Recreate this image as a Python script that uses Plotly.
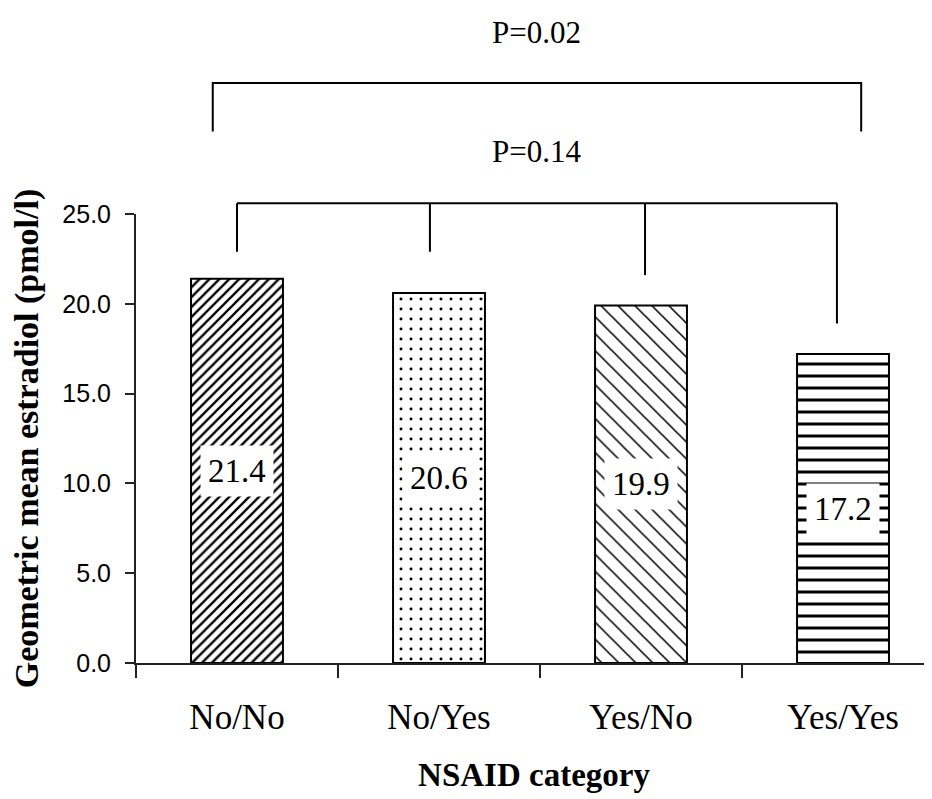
import plotly.graph_objects as go

# ---- data ----
categories = ["No/No", "No/Yes", "Yes/No", "Yes/Yes"]
values = [21.4, 20.6, 19.9, 17.2]
y_ticks = [0, 5, 10, 15, 20, 25]
y_tick_labels = ["0.0", "5.0", "10.0", "15.0", "20.0", "25.0"]

# comparison brackets (category index / value units)
outer_x = [-0.12, 3.09]
outer_top = 32.3
outer_ends = [29.6, 29.6]
outer_label = "P=0.02"
outer_label_y = 35.1

inner_x = [0, 0.955, 2.02, 2.97]
inner_top = 25.6
inner_ends = [22.9, 22.9, 21.6, 18.9]
inner_label = "P=0.14"
inner_label_y = 28.5

patterns = ["/", ".", "\\", "-"]
pattern_sizes = [7, 10, 12, 12]
pattern_solidity = [0.33, 0.07, 0.13, 0.25]

# ---- layout geometry (page body adds an 8px offset) ----
OFF = 8
W, H = 932 - OFF, 799 - OFF
axis_left_px = 136 - OFF
axis_bottom_px = 663 - OFF
y_top_px = 214 - OFF  # pixel of 25.0
m_l, m_r, m_t = axis_left_px, 0, 2
m_b = H - axis_bottom_px
plot_h = H - m_t - m_b
y_dom_top = (axis_bottom_px - y_top_px) / plot_h
y_max = 25
y2_max = y_max / y_dom_top

serif = "Liberation Serif"
sans = "Liberation Sans"

xpos = list(range(len(categories)))

fig = go.Figure()
fig.add_trace(go.Bar(
    x=xpos, y=values, width=0.455,
    marker=dict(color="white", line=dict(color="black", width=2),
                pattern=dict(shape=patterns, size=pattern_sizes,
                             solidity=pattern_solidity,
                             fgcolor="black", bgcolor="white",
                             fillmode="replace")),
    hoverinfo="skip", showlegend=False,
))

# bracket lines on an invisible full-height axis
bx, by = [], []
bx += [outer_x[0], outer_x[0], outer_x[1], outer_x[1], None]
by += [outer_ends[0], outer_top, outer_top, outer_ends[1], None]
bx += [inner_x[0], inner_x[-1], None]
by += [inner_top, inner_top, None]
for xi, ye in zip(inner_x, inner_ends):
    bx += [xi, xi, None]
    by += [inner_top, ye, None]
fig.add_trace(go.Scatter(x=bx, y=by, xaxis="x", yaxis="y2", mode="lines",
                         line=dict(color="black", width=2),
                         hoverinfo="skip", showlegend=False, cliponaxis=False))

annotations = []
for i, v in enumerate(values):
    annotations.append(dict(x=xpos[i], y=v / 2, xref="x", yref="y",
                            text=f"{v:.1f}", showarrow=False,
                            font=dict(family=serif, size=33, color="black"),
                            bgcolor="white", borderpad=7))
mid_x = (outer_x[0] + outer_x[1]) / 2
annotations.append(dict(x=mid_x, y=outer_label_y, xref="x", yref="y2",
                        text=outer_label, showarrow=False,
                        font=dict(family=serif, size=31, color="black")))
annotations.append(dict(x=mid_x, y=inner_label_y, xref="x", yref="y2",
                        text=inner_label, showarrow=False,
                        font=dict(family=serif, size=31, color="black")))

x_max = -0.5 + (W - m_l - m_r) / 202.0

fig.update_layout(
    width=W, height=H,
    margin=dict(l=m_l, r=m_r, t=m_t, b=m_b, autoexpand=False),
    plot_bgcolor="rgba(0,0,0,0)", paper_bgcolor="white",
    xaxis=dict(
        type="linear", range=[-0.5, x_max],
        tickvals=xpos, ticktext=categories,
        showline=True, linecolor="#222", linewidth=2,
        ticks="",
        minor=dict(tick0=-0.5, dtick=1, ticks="outside", ticklen=13,
                   tickwidth=2, tickcolor="#222", showgrid=False),
        tickfont=dict(family=serif, size=35, color="black"),
        ticklabelstandoff=22,
        title=dict(text="<b>NSAID category</b>", standoff=27,
                   font=dict(family=serif, size=33, color="black")),
        showgrid=False, zeroline=False, anchor="y", automargin=False,
    ),
    yaxis=dict(
        domain=[0, y_dom_top], range=[0, y_max],
        tickvals=y_ticks, ticktext=y_tick_labels,
        showline=True, linecolor="#222", linewidth=2,
        ticks="outside", ticklen=9, tickwidth=2, tickcolor="#222",
        tickfont=dict(family=sans, size=25, color="black"),
        ticklabelstandoff=9,
        title=dict(text="<b>Geometric mean estradiol (pmol/l)</b>", standoff=15,
                   font=dict(family=serif, size=34, color="black")),
        showgrid=False, zeroline=False, automargin=False,
    ),
    yaxis2=dict(domain=[0, 1], range=[0, y2_max], anchor="x", visible=False,
                showgrid=False, zeroline=False),
    annotations=annotations,
)

fig.write_html("out.html")
